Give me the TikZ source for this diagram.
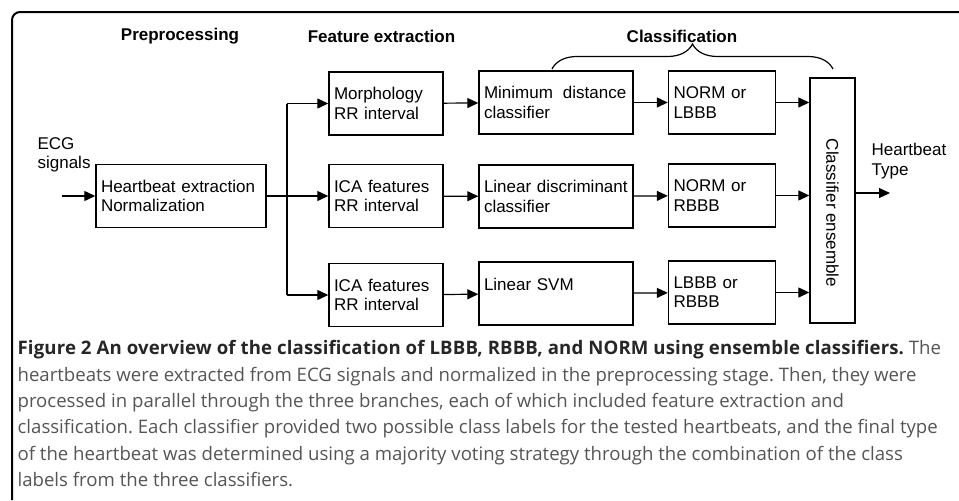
\documentclass[tikz,border=0pt]{standalone}
\usepackage{fontspec}
\setmainfont{Liberation Sans}
\newfontfamily\capfont{Open Sans}
\newfontfamily\capbold[LetterSpace=0.8]{Open Sans Bold}
\usetikzlibrary{arrows.meta,decorations.pathreplacing}
\definecolor{captext}{HTML}{555555}
\definecolor{captitle}{HTML}{262626}
\frenchspacing
\begin{document}
\begin{tikzpicture}[x=0.5pt, y=-0.5pt, line width=0.6pt, font=\fontsize{8.5}{9.6}\selectfont,
		block/.style={draw, line width=0.7pt, inner xsep=2.5pt, inner ysep=0pt, minimum height=31.5pt, align=left},
		title/.style={font=\fontsize{8.5}{9.6}\selectfont\bfseries},
		arr/.style={-{Triangle[length=5.5pt,width=5pt]}}]

		\useasboundingbox (0,0) rectangle (959,500);
		\draw[line width=1pt, rounded corners=4pt] (12,500) -- (12,12) -- (959,12);

		% stage titles
		\node[title] (pre) at (180,36) {Preprocessing};
		\node[title] (feat) at (381.5,36) {Feature extraction};
		\node[title] (clas) at (682,36) {Classification};

		% preprocessing
		\node[anchor=north west, align=left, inner sep=0pt] (ecg) at (37,137) {ECG\\signals};
		\node[block, minimum width=85pt, text width=80pt] (hb) at (181,196) {Heartbeat extraction\\Normalization};
		\coordinate (in) at (62,196);
		\coordinate (split) at (287,196);

		% feature extraction
		\node[block, minimum width=57pt, text width=52pt] (fe1) at (386,103.5) {Morphology\\RR interval};
		\node[block, minimum width=57pt, text width=52pt] (fe2) at (386,196) {ICA features\\RR interval};
		\node[block, minimum width=57pt, text width=52pt] (fe3) at (386,295) {ICA features\\RR interval};

		% classifiers
		\node[block, minimum width=77pt, text width=72pt] (cl1) at (556,102.5) {Minimum\hspace{5pt}distance\\classifier};
		\node[block, minimum width=77pt, text width=72pt] (cl2) at (556,196.5) {Linear discriminant\\classifier};
		\node[block, minimum width=77pt, text width=72pt] (cl3) at (556,293.5) {Linear SVM\\\mbox{}};

		% class labels
		\node[block, minimum width=53.5pt, text width=48.5pt] (lab1) at (722,102.5) {NORM or\\LBBB};
		\node[block, minimum width=53.5pt, text width=48.5pt] (lab2) at (722,195.5) {NORM or\\RBBB};
		\node[block, minimum width=53.5pt, text width=48.5pt] (lab3) at (722,292.5) {LBBB or\\RBBB};

		% ensemble
		\node[block, minimum width=22.5pt, minimum height=122.5pt] (ens) at (832.5,200.5) {};
		\node[rotate=-90] (enstext) at (832.5,213) {Classifier ensemble};
		\node[anchor=north west, align=left, inner sep=0pt] (type) at (871,143) {Heartbeat\\Type};
		\coordinate (out) at (890,193);

		\draw[decorate, decoration={brace, amplitude=12.5pt}] (552,69) -- (833,69);

		\draw[arr] (in) -- (hb);
		\draw (hb) -- (split);
		\draw[arr] (split |- fe1) -- (fe1);
		\draw[arr] (split) -- (fe2);
		\draw[arr] (split |- fe3) -- (fe3);
		\draw (split |- fe1) -- (split |- fe3);
		\draw[arr] (fe1) -- (cl1);
		\draw[arr] (fe2) -- (cl2);
		\draw[arr] (fe3) -- (cl3);
		\draw[arr] (cl1) -- (lab1);
		\draw[arr] (cl2) -- (lab2);
		\draw[arr] (cl3) -- (lab3);
		\draw[arr] (lab1) -- (lab1 -| ens.west);
		\draw[arr] (lab2) -- (lab2 -| ens.west);
		\draw[arr] (lab3) -- (lab3 -| ens.west);
		\draw[arr] (ens.east |- out) -- (out);

		% caption
		\node[anchor=north west, align=left, inner sep=0pt, text=captext,
			font=\capfont\fontsize{9.3}{13.15}\selectfont] (caption) at (17,340) {%
			{\color{captitle}\capbold Figure 2 An overview of the classification of LBBB, RBBB, and NORM using ensemble classifiers.} The\\
			heartbeats were extracted from ECG signals and normalized in the preprocessing stage. Then, they were\\
			processed in parallel through the three branches, each of which included feature extraction and\\
			classification. Each classifier provided two possible class labels for the tested heartbeats, and the final type\\
			of the heartbeat was determined using a majority voting strategy through the combination of the class\\
			labels from the three classifiers.};

	\end{tikzpicture}
\end{document}
